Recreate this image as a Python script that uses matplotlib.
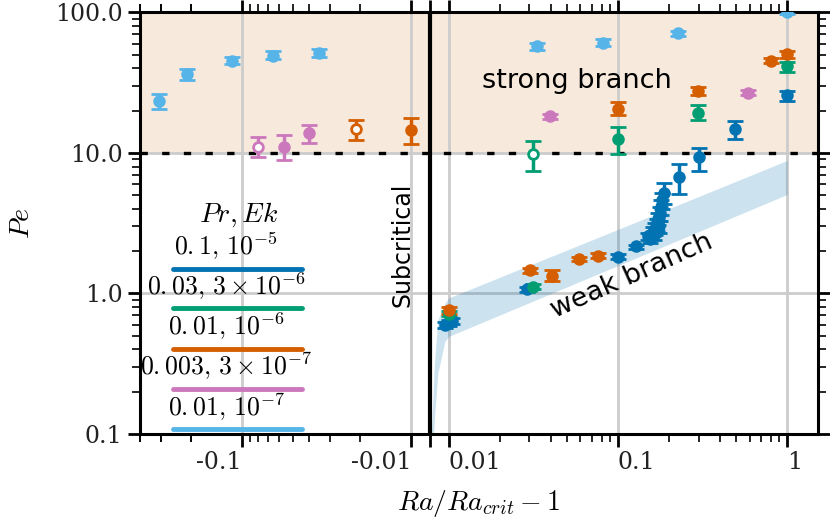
import numpy as np
import matplotlib
matplotlib.use("Agg")
import matplotlib.pyplot as plt
from matplotlib.ticker import FixedLocator

plt.rcParams['font.family'] = 'DejaVu Serif'
plt.rcParams['mathtext.fontset'] = 'cm'
plt.rcParams['axes.unicode_minus'] = False

# colours of the five runs (Pr, Ek)
colors = ['#0173b2', '#029e73', '#d55e00', '#cc78bc', '#56b4e9']
legend_labels = [r'$0.{1},\,10^{-5}$', r'$0.{03},\,3\times10^{-6}$', r'$0.{01},\,10^{-6}$',
                 r'$0.{003},\,3\times10^{-7}$', r'$0.{01},\,10^{-7}$']

# Pr=0.1, Ek=1e-5
x_b = [0.008, 0.01, 0.0105, 0.0292, 0.1, 0.128, 0.150, 0.155, 0.160, 0.163, 0.166, 0.170,
       0.172, 0.175, 0.178, 0.180, 0.183, 0.187, 0.229, 0.30, 0.494, 1.0]
y_b = [0.60, 0.62, 0.64, 1.07, 1.83, 2.16, 2.55, 2.45, 2.75, 2.6, 2.9, 3.1,
       3.4, 3.0, 3.7, 4.1, 4.6, 5.2, 6.8, 9.3, 14.7, 25.7]
lo_b = [0.03, 0.03, 0.03, 0.04, 0.08, 0.07, 0.15, 0.15, 0.2, 0.2, 0.3, 0.3,
        0.35, 0.3, 0.4, 0.5, 0.6, 0.9, 1.7, 1.9, 2.2, 2.4]
hi_b = [0.03, 0.03, 0.03, 0.04, 0.08, 0.07, 0.15, 0.15, 0.2, 0.2, 0.3, 0.3,
        0.35, 0.3, 0.4, 0.5, 0.6, 0.9, 1.6, 1.6, 2.3, 2.1]
open_b = [False] * len(x_b)

# Pr=0.03, Ek=3e-6
x_g = [0.01, 0.0316, 0.0316, 0.1, 0.296, 1.0]
y_g = [0.72, 1.12, 9.9, 12.5, 19.4, 41.3]
lo_g = [0.03, 0.05, 2.4, 2.6, 2.1, 3.3]
hi_g = [0.03, 0.05, 2.2, 2.7, 2.7, 2.8]
open_g = [False, False, True, False, False, False]

# Pr=0.01, Ek=1e-6
x_o = [-0.0211, -0.01, 0.01, 0.0304, 0.0409, 0.059, 0.0763, 0.1, 0.296, 0.805, 1.0]
y_o = [14.9, 14.5, 0.757, 1.46, 1.34, 1.77, 1.86, 20.7, 27.8, 45.5, 50.3]
lo_o = [2.6, 3.0, 0.04, 0.06, 0.12, 0.06, 0.07, 2.2, 1.8, 2.0, 2.5]
hi_o = [2.4, 3.1, 0.04, 0.06, 0.14, 0.06, 0.07, 2.2, 1.8, 2.0, 2.5]
open_o = [True, False, False, False, False, False, False, False, False, False, False]

# Pr=0.003, Ek=3e-7
x_p = [-0.0805, -0.0566, -0.0404, 0.0398, 0.590]
y_p = [11.1, 11.1, 13.8, 18.2, 26.9]
lo_p = [1.7, 2.2, 2.1, 0.8, 1.0]
hi_p = [1.8, 2.4, 1.9, 0.8, 1.0]
open_p = [True, False, False, False, False]

# Pr=0.01, Ek=1e-7
x_c = [-0.308, -0.211, -0.1145, -0.0657, -0.0352, 0.0334, 0.0816, 0.2255, 1.0]
y_c = [23.6, 36.2, 45.5, 49.4, 51.9, 57.3, 61.1, 70.9, 101.0]
lo_c = [2.9, 2.9, 2.8, 3.1, 3.3, 3.0, 3.0, 3.0, 4.0]
hi_c = [2.9, 3.1, 3.1, 3.4, 3.5, 3.0, 3.2, 3.0, 4.0]
open_c = [False] * len(x_c)

# weak branch band
band_x = [0.0008, 0.002, 0.0024, 0.0042, 0.0079, 0.01, 0.1, 1.0]
band_lo = [0.06, 0.1, 0.13, 0.27, 0.455, 0.495, 1.58, 5.07]
band_hi = [0.1, 0.25, 0.32, 0.65, 0.85, 0.93, 2.86, 8.85]

xticks = [-0.1, -0.01, 0, 0.01, 0.1, 1]
xtick_labels = ['-0.1', '-0.01', '', '0.01', '0.1', '1']
yticks = [0.1, 1, 10, 100]
ytick_labels = ['0.1', '1.0', '10.0', '100.0']

series = [(x_b, y_b, lo_b, hi_b, open_b), (x_g, y_g, lo_g, hi_g, open_g),
          (x_o, y_o, lo_o, hi_o, open_o), (x_p, y_p, lo_p, hi_p, open_p),
          (x_c, y_c, lo_c, hi_c, open_c)]

fig = plt.figure(figsize=(8.3, 5.18), dpi=100)
ax = fig.add_axes([0.1687, 0.1622, 0.8168, 0.8137])

ax.set_xscale('symlog', linthresh=0.01, linscale=0.1)
ax.set_yscale('log')
ax.set_xlim(-0.4, 1.52)
ax.set_ylim(0.1, 100)

ax.axhspan(10, 100, color='#f7eadc', lw=0, zorder=0)
ax.fill_between(band_x, band_lo, band_hi, color='#0173b2', alpha=0.2, lw=0, zorder=1)
ax.axhline(10, color='k', lw=2.4, ls=(0, (2.2, 4.3)), zorder=2)
ax.axvline(0, color='k', lw=3, zorder=2)

for (xs, ys, lo, hi, op), col in zip(series, colors):
    xs, ys, lo, hi, op = map(np.array, (xs, ys, lo, hi, op))
    for mask, face in ((~op, col), (op, 'white')):
        if mask.any():
            ax.errorbar(xs[mask], ys[mask], yerr=[lo[mask], hi[mask]], fmt='o',
                        color=col, mfc=face, mec=col, ms=7, mew=2,
                        elinewidth=2.5, capsize=6, capthick=2.5, zorder=4)

ax.text(0.057, 32.3, 'strong branch', family='DejaVu Sans', fontsize=19.5,
        ha='center', va='center', zorder=5)
ax.text(0.121, 1.32, 'weak branch', family='DejaVu Sans', fontsize=19.5,
        rotation=24, ha='center', va='center', zorder=5)
ax.text(-0.0113, 2.21, 'Subcritical', family='DejaVu Sans', fontsize=17,
        rotation=90, ha='center', va='center', zorder=5)

# legend drawn by hand: label above each line
ax.text(0.146, 0.503, r'$Pr, Ek$', transform=ax.transAxes, fontsize=20,
        ha='center', va='baseline', zorder=6)
line_y = [0.3915, 0.299, 0.2017, 0.1068, 0.0119]
text_y = [0.4247, 0.3298, 0.2349, 0.14, 0.0427]
for col, lab, ly, ty in zip(colors, legend_labels, line_y, text_y):
    ax.plot([0.049, 0.239], [ly, ly], transform=ax.transAxes, color=col, lw=3.5,
            solid_capstyle='round', clip_on=False, zorder=6)
    ax.text(0.127, ty, lab, transform=ax.transAxes, fontsize=18.5,
            ha='center', va='baseline', zorder=6)

xminor = [-k * 10.0 ** e for e in (-2, -1) for k in range(2, 10)] + [-0.2, -0.3, -0.4] \
    + [k * 10.0 ** e for e in (-2, -1) for k in range(2, 10)]
ax.set_xticks(xticks, xtick_labels)
ax.xaxis.set_minor_locator(FixedLocator(xminor))
for t, lab in zip(xticks, ax.get_xticklabels()):
    lab.set_ha('right' if t < 0 else 'left')

yminor = [k * 10.0 ** e for e in (-1, 0, 1) for k in range(2, 10)]
ax.set_yticks(yticks, ytick_labels)
ax.yaxis.set_minor_locator(FixedLocator(yminor))

ax.tick_params(which='both', direction='out', top=True, right=True, labelsize=17,
               labelcolor='#222222')
ax.tick_params(which='major', length=9, width=2)
ax.tick_params(which='minor', length=5.5, width=1.2)
ax.grid(which='major', color='#cccccc', lw=2)
ax.set_axisbelow(True)
for s in ax.spines.values():
    s.set_linewidth(2.2)

ax.set_xlabel(r'$Ra/Ra_{crit}-1$', fontsize=20, labelpad=10)
ax.set_ylabel(r'$Pe$', fontsize=20, labelpad=14)

fig.savefig('out.png', dpi=100)
